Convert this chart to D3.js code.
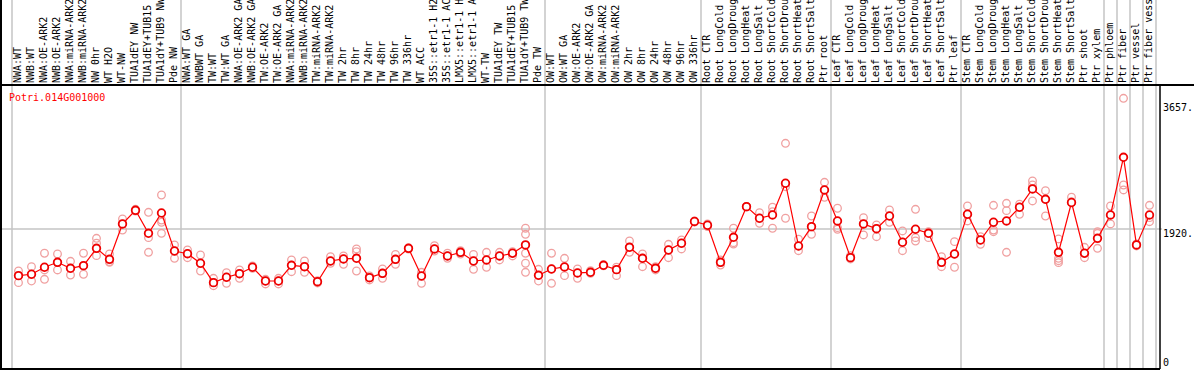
<!DOCTYPE html>
<html lang="en">
<head>
	<meta charset="UTF-8">
	<title>Potri.014G001000</title>
	<script src="https://cdn.jsdelivr.net/npm/d3@7"></script>
	<style>
		body { margin: 0; background: #fff; }
		svg { display: block; }
		text { font-family: "DejaVu Sans Mono", monospace; font-size: 10px; }
	</style>
</head>
<body>
	<svg width="1194" height="370"></svg>
	<script>
		// 样本名
		var labels = ["NWA:WT","NWB:WT","NWA:OE-ARK2","NWB:OE-ARK2","NWA:miRNA-ARK2","NWB:miRNA-ARK2","NW 0hr","WT H2O","WT-NW","TUA1dEY NW","TUA1dEY+TUB15 NW","TUA1dY+TUB9 NW","Pde NW",
			"NWA:WT GA","NWBWT GA","TW:WT","TW:WT GA","NWA:OE-ARK2 GA","NWB:OE-ARK2 GA","TW:OE-ARK2","TW:OE-ARK2 GA","NWA:miRNA-ARK2 GA","NWB:miRNA-ARK2 GA","TW:miRNA-ARK2","TW:miRNA-ARK2 GA","TW 2hr","TW 8hr","TW 24hr","TW 48hr","TW 96hr","TW 336hr","WT ACC","35S::etr1-1 H2O","35S::etr1-1 ACC","LMX5::etr1-1 H2O","LMX5::etr1-1 ACC","WT-TW","TUA1dEY TW","TUA1dEY+TUB15 TW","TUA1dY+TUB9 TW","Pde TW",
			"OW:WT","OW:WT GA","OW:OE-ARK2","OW:OE-ARK2 GA","OW:miRNA-ARK2","OW:miRNA-ARK2 GA","OW 2hr","OW 8hr","OW 24hr","OW 48hr","OW 96hr","OW 336hr",
			"Root CTR","Root LongCold","Root LongDrought","Root LongHeat","Root LongSalt","Root ShortCold","Root ShortDrought","Root ShortHeat","Root ShortSalt","Ptr root",
			"Leaf CTR","Leaf LongCold","Leaf LongDrought","Leaf LongHeat","Leaf LongSalt","Leaf ShortCold","Leaf ShortDrought","Leaf ShortHeat","Leaf ShortSalt","Ptr leaf",
			"Stem CTR","Stem LongCold","Stem LongDrought","Stem LongHeat","Stem LongSalt","Stem ShortCold","Stem ShortDrought","Stem ShortHeat","Stem ShortSalt","Ptr shoot","Ptr xylem",
			"Ptr phloem","Ptr fiber","Ptr vessel","Ptr fiber vessel"];
		// 平均值
		var means = [1280,1299,1395,1463,1381,1417,1655,1504,1989,2176,1861,2139,1618,
			1581,1450,1184,1258,1307,1395,1207,1207,1422,1403,1197,1481,1509,1518,1252,1312,1504,1655,1275,1646,1550,1600,1481,1495,1550,1587,1701,1285,
			1371,1399,1317,1326,1422,1362,1669,1518,1381,1632,1724,2023,
			1971,1463,1806,2226,2067,2112,2547,1687,1952,2455,
			2030,1527,1989,1924,2098,1738,1916,1861,1463,1577,
			2122,1769,2012,2030,2218,2469,2327,1600,2283,1587,1792,
			2112,2903,1701,2112];
		// 重复
		var reps = [[1344,1280,1184],[1403,1299,1207],[1587,1358,1230],[1577,1463,1358],[1477,1381,1289],[1587,1417,1299],[1792,1724,1554],[1577,1472,1463],[2057,1906,1989],[2190,2165,2176],[2149,1801,1600],[2386,2043,2012,1861],[1701,1518,1618],
			[1632,1526,1581],[1563,1344,1450],[1244,1142,1184],[1321,1175,1258],[1358,1244,1307],[1413,1381,1395],[1207,1166,1230],[1244,1166,1207],[1495,1334,1422],[1481,1326,1403],[1180,1210,1197],[1540,1450,1481],[1550,1436,1509],[1646,1609,1344],[1275,1221,1252],[1371,1244,1312],[1572,1436,1504],[1660,1645,1655],[1326,1175,1275],[1691,1618,1646],[1587,1518,1550],[1622,1577,1600],[1572,1367,1481],[1600,1395,1495],[1600,1495,1550],[1609,1550,1587],[1930,1847,1587,1450,1326],[1367,1207,1285],
			[1587,1175,1371],[1518,1280,1399],[1371,1244,1317],[1348,1312,1326],[1430,1415,1422],[1395,1280,1362],[1755,1600,1669],[1577,1403,1518],[1403,1358,1381],[1710,1526,1632],[1769,1646,1724],[2030,2015,2023],
			[1989,1952,1971],[1495,1426,1463],[1930,1732,1714],[2230,2220,2226],[2144,1998,2067],[2218,2157,1930],[3095,2500,2067],[1779,1622,1687],[2098,1847,1952],[2560,2355,2455],
			[2204,1938,1916],[1554,1509,1527],[2075,1838,1989],[1975,1814,1924],[2181,2012,2098],[1893,1622,1738],[2190,1801,1755],[1883,1801,1861],[1540,1403,1463],[1746,1395,1577],
			[2235,2030,2122],[1814,1710,1769],[2245,1906,1883],[2272,2171,1600],[2259,2122,2218],[2578,2523,2304],[2445,2098,2327],[1783,1518,1485,1458],[2355,2294,2283],[1669,1526,1587],[1883,1861,1655],
			[2235,1989,2112],[3712,2523,2455],[1714,1687,1701],[2245,2075,2020]];
		// 分组起点
		var groupStarts = [0,13,41,53,63,73,84,85,86,87,88];
		var yTicks = [0,1920,3657];
		var yTickLabels = ["0","1920.","3657."];
		var gene = "Potri.014G001000";

		var svg = d3.select("svg");
		var width = 1194, height = 370;
		var plot = {left:12, right:1156, top:85, bottom:369};

		var x = d3.scaleBand().domain(d3.range(labels.length)).range([plot.left, plot.right]);
		var y = d3.scaleLinear().domain([0,3657]).range([plot.bottom, 102.3]);
		var cx = function(i) { return x(i) + x.bandwidth()/2; };

		// 竖线
		svg.append("g").selectAll("line").data(groupStarts).enter().append("line")
			.attr("x1", function(d) { return plot.left + d*x.step(); })
			.attr("x2", function(d) { return plot.left + d*x.step(); })
			.attr("y1", 0).attr("y2", plot.bottom)
			.attr("stroke", "#c4c4c4").attr("stroke-width", 1.5);

		// 网格线
		svg.append("line")
			.attr("x1", 2).attr("x2", plot.right + 6)
			.attr("y1", y(1920)).attr("y2", y(1920))
			.attr("stroke", "#c4c4c4").attr("stroke-width", 1.5);

		// 边框
		svg.append("line").attr("x1", 1).attr("x2", 1).attr("y1", 0).attr("y2", height).attr("stroke", "#000").attr("stroke-width", 2);
		svg.append("line").attr("x1", 0).attr("x2", width).attr("y1", plot.top).attr("y2", plot.top).attr("stroke", "#000").attr("stroke-width", 2);
		svg.append("line").attr("x1", 0).attr("x2", plot.right + 4).attr("y1", plot.bottom).attr("y2", plot.bottom).attr("stroke", "#000").attr("stroke-width", 2);
		svg.append("line").attr("x1", plot.right + 4).attr("x2", plot.right + 4).attr("y1", plot.top).attr("y2", plot.bottom).attr("stroke", "#000").attr("stroke-width", 1.5);

		// 重复点
		var repPts = [];
		reps.forEach(function(r, i) { r.forEach(function(v) { repPts.push({i:i, v:v}); }); });
		svg.append("g").selectAll("circle").data(repPts).enter().append("circle")
			.attr("cx", function(d) { return cx(d.i); })
			.attr("cy", function(d) { return y(d.v); })
			.attr("r", 3.8)
			.attr("fill", "none")
			.attr("stroke", "#f0a0a0")
			.attr("stroke-width", 1.3);

		// 折线
		var line = d3.line().x(function(d, i) { return cx(i); }).y(function(d) { return y(d); });
		svg.append("path").datum(means)
			.attr("d", line)
			.attr("fill", "none")
			.attr("stroke", "#f00")
			.attr("stroke-width", 1.2);

		svg.append("g").selectAll("circle").data(means).enter().append("circle")
			.attr("cx", function(d, i) { return cx(i); })
			.attr("cy", function(d) { return y(d); })
			.attr("r", 3.8)
			.attr("fill", "#fff")
			.attr("stroke", "#e00")
			.attr("stroke-width", 1.8);

		// 样本名
		svg.append("g").selectAll("text").data(labels).enter().append("text")
			.attr("transform", function(d, i) { return "translate(" + (cx(i) + 2.5) + "," + (plot.top - 2) + ") rotate(-90)"; })
			.attr("fill", "#000")
			.text(function(d) { return d; });

		svg.append("text")
			.attr("x", 9).attr("y", 101)
			.attr("fill", "#f00")
			.text(gene);

		// 坐标轴
		var yAxis = d3.axisRight(y).tickValues(yTicks).tickSize(0)
			.tickFormat(function(d, i) { return yTickLabels[i]; });
		var ax = svg.append("g").attr("transform", "translate(" + (plot.right + 4) + ",0)").call(yAxis);
		ax.select(".domain").remove();
		ax.selectAll("text")
			.attr("x", 3)
			.attr("dy", null)
			.attr("y", function(d) { return Math.min(8, 365 - y(d)); })
			.attr("fill", "#000")
			.style("font-family", "'DejaVu Sans Mono', monospace")
			.style("font-size", "10px");
	</script>
</body>
</html>
